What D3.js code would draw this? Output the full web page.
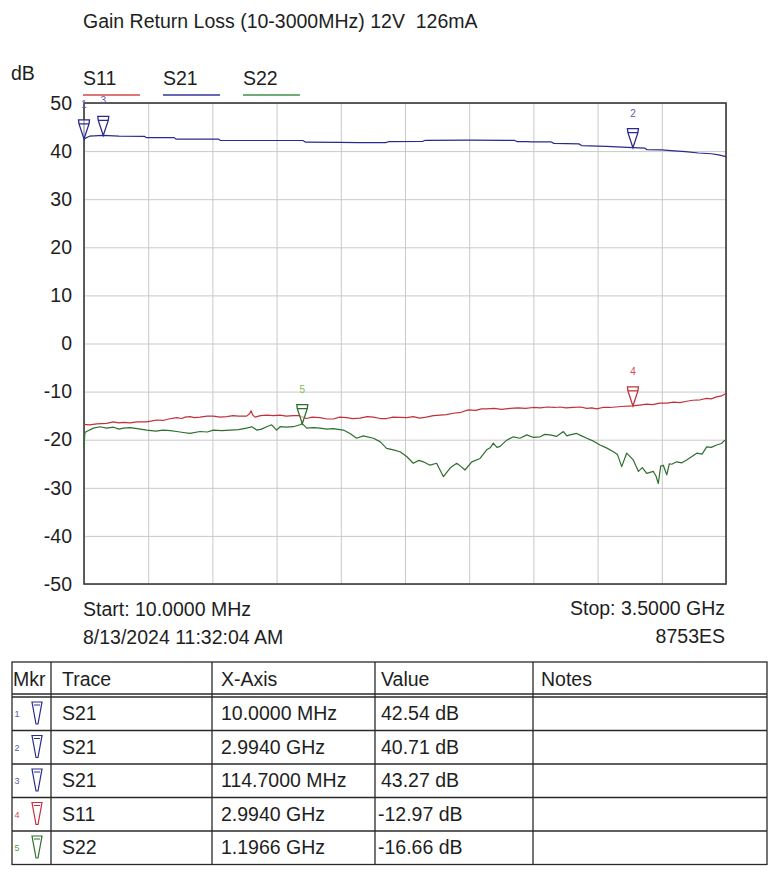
<!DOCTYPE html>
<html><head><meta charset="utf-8">
<script src="https://cdn.jsdelivr.net/npm/d3@7"></script>
<style>
html,body{margin:0;padding:0;background:#fff;}
svg{display:block;font-family:"Liberation Sans",Arial,sans-serif;}
</style></head>
<body>
<svg id="c" width="778" height="876"></svg>
<script>
// ---------------- DATA ----------------
const titleText = "Gain Return Loss (10-3000MHz) 12V\u00a0\u00a0126mA";
const traceNames = ["S11", "S21", "S22"];
const yTicks = [50, 40, 30, 20, 10, 0, -10, -20, -30, -40, -50];
const xStart = 10, xStop = 3500; // MHz
const xDivisions = 10;

const s21Freq = [10, 40, 114.7, 200, 340, 350, 500, 510, 740, 750, 900, 1000, 1200, 1215, 1400, 1500, 1650, 1665, 1850, 1865, 2100, 2300, 2350, 2365, 2420, 2440, 2550, 2565, 2700, 2715, 2850, 2994, 3060, 3070, 3150, 3200, 3280, 3350, 3420, 3460, 3500];
const s21Db =   [42.54, 43.1, 43.27, 43.1, 43.05, 42.8, 42.8, 42.5, 42.5, 42.25, 42.2, 42.2, 42.2, 41.85, 41.8, 41.75, 41.75, 41.95, 42.0, 42.25, 42.3, 42.25, 42.25, 41.95, 41.95, 41.9, 41.9, 41.6, 41.5, 41.15, 41.0, 40.71, 40.6, 40.3, 40.25, 40.1, 39.9, 39.6, 39.45, 39.2, 38.85];

const s11Freq = [10,40,80,133,169,200,224,260,300,351,380,405,440,470,514,540,560,586,610,640,680,713,750,786,820,850,894,910,918,928,940,970,1003,1040,1075,1110,1148,1180,1200,1220,1250,1293,1330,1365,1400,1438,1470,1510,1550,1583,1620,1655,1690,1728,1765,1800,1835,1870,1910,1945,1980,2018,2060,2099,2140,2170,2199,2240,2280,2326,2370,2410,2452,2490,2530,2570,2598,2630,2670,2710,2743,2770,2797,2830,2870,2930,2994,3030,3069,3100,3141,3180,3213,3250,3286,3320,3360,3395,3420,3449,3475,3500];
const s11Db =   [-16.8,-16.9,-16.7,-16.6,-16.3,-16.5,-16.4,-16.5,-16.3,-16.3,-16.1,-15.9,-16.0,-15.7,-15.4,-15.6,-15.3,-15.2,-15.4,-15.3,-15.1,-15.1,-15.3,-15.2,-15.0,-15.1,-15.1,-14.6,-14.0,-14.9,-15.3,-15.0,-14.9,-15.0,-14.9,-15.1,-15.0,-15.0,-15.3,-15.6,-15.3,-15.4,-15.7,-15.7,-15.3,-15.4,-15.6,-15.5,-15.2,-15.3,-15.6,-15.6,-15.3,-15.35,-15.4,-15.2,-15.5,-15.3,-15.0,-14.9,-14.8,-14.5,-14.3,-13.8,-13.9,-13.6,-13.6,-13.5,-13.7,-13.5,-13.4,-13.5,-13.3,-13.4,-13.2,-13.3,-13.2,-13.4,-13.3,-13.2,-13.5,-13.4,-13.6,-13.3,-13.3,-13.1,-12.97,-12.8,-12.6,-12.7,-12.4,-12.4,-12.2,-12.3,-12.0,-11.8,-11.7,-11.4,-11.5,-11.1,-10.9,-10.4];

const s22Freq = [10,15,24,61,97,133,170,200,224,260,300,351,400,441,480,514,550,586,641,680,713,760,804,850,894,922,949,975,1003,1030,1057,1076,1110,1148,1184,1196.6,1221,1260,1293,1330,1365,1420,1456,1492,1528,1583,1619,1655,1692,1728,1764,1800,1830,1855,1891,1927,1964,2000,2036,2060,2081,2118,2163,2199,2220,2235,2255,2272,2308,2344,2380,2417,2450,2489,2515,2543,2580,2616,2635,2652,2688,2715,2743,2780,2815,2850,2888,2910,2933,2960,2996,3024,3045,3069,3105,3120,3132,3145,3159,3178,3192,3205,3232,3260,3286,3341,3370,3395,3420,3449,3475,3494];
const s22Db =   [-21.5,-18.5,-18.3,-17.6,-17.3,-17.6,-17.4,-17.8,-17.6,-17.5,-17.7,-18.0,-18.2,-18.0,-18.1,-18.3,-18.5,-18.7,-18.3,-18.4,-18.0,-18.1,-18.0,-17.9,-17.6,-17.3,-18.0,-17.8,-17.3,-16.9,-18.0,-17.3,-17.4,-17.3,-16.9,-16.66,-17.6,-17.5,-17.6,-17.8,-17.7,-18.0,-18.7,-19.7,-19.2,-19.7,-20.4,-21.8,-22.1,-22.5,-23.5,-24.9,-24.3,-24.6,-25.3,-24.9,-27.7,-25.9,-24.9,-25.6,-26.3,-24.6,-23.9,-22.1,-21.6,-20.7,-21.6,-21.4,-20.1,-19.4,-19.7,-19.0,-19.5,-19.4,-18.9,-19.0,-19.3,-18.3,-19.2,-19.0,-18.7,-19.2,-19.7,-20.3,-21.1,-21.7,-22.5,-23.1,-25.6,-22.8,-24.2,-26.6,-25.8,-27.0,-26.6,-27.6,-29.1,-25.5,-25.3,-27.3,-25.0,-25.1,-24.6,-24.8,-24.2,-22.8,-23.0,-21.5,-21.6,-21.1,-20.8,-20.1];

const mkrNums   = [1, 2, 3, 4, 5];
const mkrTrace  = ["S21", "S21", "S21", "S11", "S22"];
const mkrFreq   = [10, 2994, 114.7, 2994, 1196.6];
const mkrDb     = [42.54, 40.71, 43.27, -12.97, -16.66];
const mkrXText  = ["10.0000 MHz", "2.9940 GHz", "114.7000 MHz", "2.9940 GHz", "1.1966 GHz"];
const mkrValText= ["42.54 dB", "40.71 dB", "43.27 dB", "-12.97 dB", "-16.66 dB"];
const tableHeaders = ["Mkr", "Trace", "X-Axis", "Value", "Notes"];

// ---------------- STYLE ----------------
const traceColor = {S11: "#c2303c", S21: "#2a2a8e", S22: "#2f6e2f"};
const legendColor = {S11: "#d44848", S21: "#34349a", S22: "#3f9048"};
const labelColor = {S11: "#d44848", S21: "#5a5aa8", S22: "#86b860"};
const tableNumColor = {S11: "#d44848", S21: "#5a5aa8", S22: "#5f9a3a"};
const textColor = "#1e1e1e";
const FS = 19.5;

const svg = d3.select("#c");
const L = 84, R = 726, T = 103, B = 584;
const x = d3.scaleLinear().domain([xStart, xStop]).range([L, R]);
const y = d3.scaleLinear().domain([-50, 50]).range([B, T]);

// title
svg.append("text").attr("x", 83).attr("y", 28).attr("font-size", FS).attr("fill", textColor).text(titleText);
svg.append("text").attr("x", 11).attr("y", 80).attr("font-size", FS).attr("fill", textColor).text("dB");

// legend
const legX = d3.scalePoint().domain(traceNames).range([83, 243]);
traceNames.forEach(n => {
  svg.append("text").attr("x", legX(n)).attr("y", 85).attr("font-size", FS).attr("fill", textColor).text(n);
  svg.append("line").attr("x1", legX(n)).attr("x2", legX(n) + 57).attr("y1", 95).attr("y2", 95)
    .attr("stroke", legendColor[n]).attr("stroke-width", 1.4);
});

// grid
const xGridVals = d3.range(xDivisions + 1).map(i => xStart + i * (xStop - xStart) / xDivisions);
svg.append("g").attr("transform", `translate(0,${B})`)
  .call(d3.axisBottom(x).tickValues(xGridVals).tickSize(-(B - T)).tickFormat(""))
  .call(g => g.select(".domain").remove())
  .call(g => g.selectAll("line").attr("stroke", "#c9c9c9").attr("stroke-width", 1));
svg.append("g").attr("transform", `translate(${L},0)`)
  .call(d3.axisLeft(y).tickValues(yTicks).tickSize(-(R - L)).tickFormat(""))
  .call(g => g.select(".domain").remove())
  .call(g => g.selectAll("line").attr("stroke", "#c9c9c9").attr("stroke-width", 1));

// y labels
svg.append("g").attr("transform", `translate(${L},0)`)
  .call(d3.axisLeft(y).tickValues(yTicks).tickSize(0).tickPadding(12).tickFormat(d => String(d)))
  .call(g => g.select(".domain").remove())
  .call(g => g.selectAll("text").attr("font-size", FS).attr("fill", textColor)
    .attr("font-family", '"Liberation Sans",Arial,sans-serif'));

// frame
svg.append("rect").attr("x", L).attr("y", T).attr("width", R - L).attr("height", B - T)
  .attr("fill", "none").attr("stroke", "#3a3a3a").attr("stroke-width", 1.6);

// traces
const line = d3.line().x(d => x(d[0])).y(d => y(d[1]));
const series = {
  S11: d3.zip(s11Freq, s11Db),
  S22: d3.zip(s22Freq, s22Db),
  S21: d3.zip(s21Freq, s21Db)
};
["S22", "S11", "S21"].forEach(n => {
  svg.append("path").datum(series[n]).attr("d", line).attr("fill", "none")
    .attr("stroke", traceColor[n]).attr("stroke-width", 1.2).attr("stroke-linejoin", "round");
});

// markers on plot
mkrNums.forEach((m, i) => {
  const cx = x(mkrFreq[i]), cy = y(mkrDb[i]);
  const c = traceColor[mkrTrace[i]];
  svg.append("path")
    .attr("d", `M${cx - 5.5},${cy - 19} L${cx + 5.5},${cy - 19} L${cx + 5},${cy - 15} L${cx},${cy} L${cx - 5},${cy - 15} Z M${cx - 5},${cy - 15} L${cx + 5},${cy - 15}`)
    .attr("fill", "#fff").attr("fill-opacity", 0.6).attr("stroke", c).attr("stroke-width", 1.3);
  svg.append("text").attr("x", cx).attr("y", Math.max(cy - 31, 101)).attr("text-anchor", "middle")
    .attr("font-size", 10).attr("fill", labelColor[mkrTrace[i]]).text(m);
});

// start / stop
svg.append("text").attr("x", 83).attr("y", 616).attr("font-size", FS).attr("fill", textColor).text("Start: 10.0000 MHz");
svg.append("text").attr("x", 83).attr("y", 644).attr("font-size", FS).attr("fill", textColor).text("8/13/2024 11:32:04 AM");
svg.append("text").attr("x", 725).attr("y", 615).attr("text-anchor", "end").attr("font-size", FS).attr("fill", textColor).text("Stop: 3.5000 GHz");
svg.append("text").attr("x", 725).attr("y", 643).attr("text-anchor", "end").attr("font-size", FS).attr("fill", textColor).text("8753ES");

// table
const colX = [12, 51, 212, 375, 533, 767];
const tTop = 662, hdrB1 = 694, hdrB2 = 697, rowH = 33.5;
const rowTops = mkrNums.map((m, i) => hdrB2 + i * rowH);
const tBottom = hdrB2 + mkrNums.length * rowH;
const tg = svg.append("g").attr("stroke", "#2a2a2a").attr("stroke-width", 1.3);
tg.append("rect").attr("x", colX[0]).attr("y", tTop).attr("width", colX[5] - colX[0]).attr("height", tBottom - tTop).attr("fill", "none");
[hdrB1, hdrB2].forEach(yy => tg.append("line").attr("x1", colX[0]).attr("x2", colX[5]).attr("y1", yy).attr("y2", yy));
rowTops.slice(1).forEach(yy => tg.append("line").attr("x1", colX[0]).attr("x2", colX[5]).attr("y1", yy).attr("y2", yy));
colX.slice(1, 5).forEach(xx => tg.append("line").attr("x1", xx).attr("x2", xx).attr("y1", tTop).attr("y2", tBottom));

const textX = [13, 62, 221, 381, 541];
tableHeaders.forEach((h, j) => {
  svg.append("text").attr("x", textX[j]).attr("y", 686).attr("font-size", FS).attr("fill", textColor).text(h);
});
mkrNums.forEach((m, i) => {
  const base = rowTops[i] + 23;
  const tr = mkrTrace[i];
  svg.append("text").attr("x", 17).attr("y", base - 3).attr("font-size", 9).attr("text-anchor", "middle")
    .attr("fill", tableNumColor[tr]).text(m);
  const cx = 37, top = rowTops[i] + 5, bot = rowTops[i] + 27;
  svg.append("path").attr("d", `M${cx - 5},${top} L${cx + 5},${top} L${cx + 1},${bot} L${cx - 1},${bot} Z M${cx - 3},${top + 3} L${cx + 3},${top + 3}`)
    .attr("fill", "none").attr("stroke", traceColor[tr]).attr("stroke-width", 1.2);
  svg.append("text").attr("x", textX[1]).attr("y", base).attr("font-size", FS).attr("fill", textColor).text(tr);
  svg.append("text").attr("x", textX[2]).attr("y", base).attr("font-size", FS).attr("fill", textColor).text(mkrXText[i]);
  svg.append("text").attr("x", mkrValText[i][0] === "-" ? 378 : textX[3]).attr("y", base).attr("font-size", FS).attr("fill", textColor).text(mkrValText[i]);
});
</script>
</body></html>
